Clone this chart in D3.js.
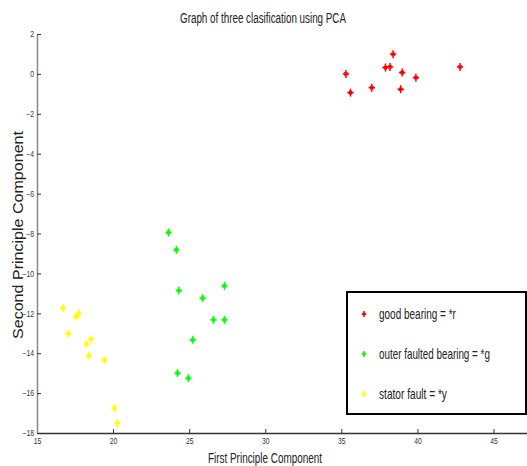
<!DOCTYPE html>
<html>
<head>
<meta charset="utf-8">
<script src="https://cdn.jsdelivr.net/npm/d3@7"></script>
<style>
  html, body { margin: 0; padding: 0; background: #fff; }
  svg { display: block; }
  .narrow { font-family: "Liberation Sans Narrow", "Arial Narrow", "Liberation Sans", Arial, sans-serif; }
</style>
</head>
<body>
<svg id="chart" width="527" height="466"></svg>
<script>
// ---------- DATA ----------
const goodX  = [35.3, 35.6, 37.0, 37.9, 38.2, 38.4, 39.0, 38.9, 39.9, 42.8];
const goodY  = [0.0, -0.94, -0.69, 0.32, 0.35, 0.99, 0.07, -0.77, -0.19, 0.35];
const outerX = [23.64, 24.16, 24.32, 27.32, 25.88, 26.6, 27.32, 25.24, 24.23, 24.95];
const outerY = [-7.95, -8.82, -10.86, -10.63, -11.24, -12.33, -12.33, -13.33, -15.0, -15.25];
const statorX = [16.71, 17.06, 17.55, 17.74, 18.24, 18.55, 18.4, 19.43, 20.09, 20.28];
const statorY = [-11.74, -13.02, -12.17, -12.03, -13.55, -13.3, -14.12, -14.35, -16.76, -17.51];

const xTicks = [15, 20, 25, 30, 35, 40, 45];
const yTicks = [2, 0, -2, -4, -6, -8, -10, -12, -14, -16, -18];

const series = [
  { name: "good bearing = *r", color: "#ff0000", xs: goodX, ys: goodY },
  { name: "outer faulted bearing = *g", color: "#00ff00", xs: outerX, ys: outerY },
  { name: "stator fault = *y", color: "#ffff00", xs: statorX, ys: statorY }
];

// ---------- LAYOUT ----------
const svg = d3.select("#chart");
const plotL = 37, plotR = 527, plotT = 34, plotB = 433;

const x = d3.scaleLinear().domain([15, 47.2]).range([plotL, plotR]);
const y = d3.scaleLinear().domain([-18, 2]).range([plotB, plotT]);

// asterisk marker like matlab '*'
function star(g, cx, cy, color, r) {
  const s = g.append("g").attr("transform", `translate(${cx},${cy})`)
    .attr("stroke", color).attr("stroke-width", 1.5).attr("fill", "none");
  s.append("line").attr("x1", 0).attr("y1", -r).attr("x2", 0).attr("y2", r);
  s.append("line").attr("x1", -r * 0.8).attr("y1", 0).attr("x2", r * 0.8).attr("y2", 0);
  s.append("line").attr("x1", -r * 0.4).attr("y1", -r * 0.4).attr("x2", r * 0.4).attr("y2", r * 0.4);
  s.append("line").attr("x1", -r * 0.4).attr("y1", r * 0.4).attr("x2", r * 0.4).attr("y2", -r * 0.4);
}

// squeeze text horizontally (no narrow font installed)
function squeeze(sel, k) {
  sel.each(function () {
    const w = this.getComputedTextLength();
    d3.select(this).attr("textLength", w * k).attr("lengthAdjust", "spacingAndGlyphs");
  });
}

// ---------- AXES ----------
const xAxis = d3.axisBottom(x).tickValues(xTicks).tickSizeInner(-4).tickSizeOuter(0).tickPadding(5);
const gx = svg.append("g").attr("transform", `translate(0,${plotB})`).call(xAxis);
gx.select(".domain").attr("stroke", "#333").attr("stroke-width", 1.5);
gx.selectAll(".tick line").attr("stroke", "#333");
gx.selectAll("text").attr("class", "narrow").attr("font-size", 8.5).attr("fill", "#333");
squeeze(gx.selectAll("text"), 0.8);

const yAxis = d3.axisLeft(y).tickValues(yTicks).tickSizeInner(-4).tickSizeOuter(0).tickPadding(3);
const gy = svg.append("g").attr("transform", `translate(${plotL},0)`).call(yAxis);
gy.select(".domain").attr("stroke", "#888").attr("stroke-width", 1.5);
gy.selectAll(".tick line").attr("stroke", "#333");
gy.selectAll("text").attr("class", "narrow").attr("font-size", 8.5).attr("fill", "#333");
squeeze(gy.selectAll("text"), 0.8);

// ---------- POINTS ----------
const pts = svg.append("g");
series.forEach(s => {
  s.xs.forEach((v, i) => star(pts, x(v), y(s.ys[i]), s.color, 4));
});

// ---------- TEXT ----------
svg.append("text").attr("class", "narrow")
  .attr("x", 263).attr("y", 23).attr("text-anchor", "middle")
  .attr("font-size", 14).attr("fill", "#222")
  .attr("textLength", 166).attr("lengthAdjust", "spacingAndGlyphs")
  .text("Graph of three clasification using PCA");

svg.append("text").attr("class", "narrow")
  .attr("x", 265).attr("y", 463).attr("text-anchor", "middle")
  .attr("font-size", 14).attr("fill", "#222")
  .attr("textLength", 114).attr("lengthAdjust", "spacingAndGlyphs")
  .text("First Principle Component");

svg.append("text")
  .attr("transform", `translate(23,235) rotate(-90)`)
  .attr("text-anchor", "middle")
  .attr("font-family", "Liberation Sans, Arial, sans-serif")
  .attr("font-size", 14).attr("fill", "#222")
  .attr("textLength", 208).attr("lengthAdjust", "spacingAndGlyphs")
  .text("Second Principle Component");

// ---------- LEGEND ----------
const legendW = [77, 111, 68];
const lg = svg.append("g");
lg.append("rect").attr("x", 347).attr("y", 292).attr("width", 179).attr("height", 122)
  .attr("fill", "#fff").attr("stroke", "#000").attr("stroke-width", 2);
series.forEach((s, i) => {
  const ly = 314 + i * 40;
  star(lg, 364, ly, s.color, 3);
  const t = lg.append("text").attr("class", "narrow")
    .attr("font-size", 14).attr("fill", "#222")
    .text(s.name);
  const k = legendW[i] / t.node().getComputedTextLength();
  t.attr("transform", `translate(379,${ly + 5}) scale(${k},1)`);
});
</script>
</body>
</html>
